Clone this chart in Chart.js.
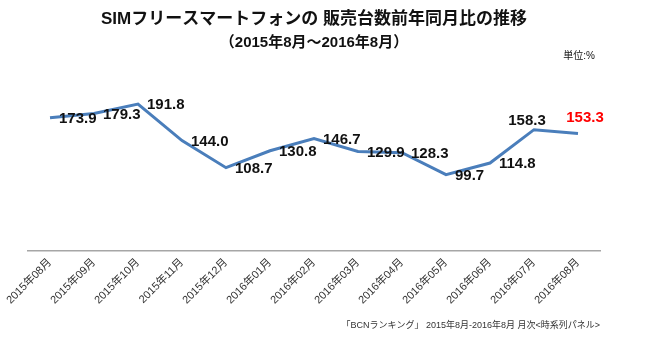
<!DOCTYPE html>
<html>
<head>
<meta charset="utf-8">
<script src="https://cdn.jsdelivr.net/npm/chart.js@4"></script>
<style>
  body { margin: 0; background: #fff; }
  canvas { display: block; }
</style>
</head>
<body>
<canvas id="simChart" width="650" height="338"></canvas>
<script>
// data
const months = ['2015年08月', '2015年09月', '2015年10月', '2015年11月', '2015年12月', '2016年01月', '2016年02月',
                '2016年03月', '2016年04月', '2016年05月', '2016年06月', '2016年07月', '2016年08月'];
const ratios = [173.9, 179.3, 191.8, 144.0, 108.7, 130.8, 146.7, 129.9, 128.3, 99.7, 114.8, 158.3, 153.3];
const yMin = 0;
const yMax = 250;

const titleText = 'SIMフリースマートフォンの 販売台数前年同月比の推移';
const subtitleText = '（2015年8月～2016年8月）';
const unitText = '単位:%';
const sourceText = '「BCNランキング」 2015年8月-2016年8月 月次<時系列パネル>';

const jpFont = "'Liberation Sans', 'Noto Sans CJK JP', sans-serif";

// value labels: right of the point, the last two sit above it
const valueLabels = {
  id: 'valueLabels',
  afterDatasetsDraw(chart) {
    const ctx = chart.ctx;
    const pts = chart.getDatasetMeta(0).data;
    const above = { 11: [-7, -9], 12: [7, -16] };
    ctx.save();
    ctx.font = "bold 15px 'Liberation Sans', sans-serif";
    ctx.textBaseline = 'middle';
    pts.forEach((p, i) => {
      const txt = ratios[i].toFixed(1);
      ctx.fillStyle = i === ratios.length - 1 ? '#ff0000' : '#111';
      if (above[i]) {
        ctx.textAlign = 'center';
        ctx.fillText(txt, p.x + above[i][0], p.y + above[i][1]);
      } else {
        ctx.textAlign = 'left';
        ctx.fillText(txt, p.x + 9, p.y + 1);
      }
    });
    // unit note above the plot, right side
    ctx.font = "10px " + jpFont;
    ctx.fillStyle = '#111';
    ctx.textAlign = 'right';
    ctx.fillText(unitText, chart.chartArea.right - 5, chart.chartArea.top - 3);
    ctx.restore();
  }
};

new Chart(document.getElementById('simChart'), {
  type: 'line',
  data: {
    labels: months,
    datasets: [{
      data: ratios,
      borderColor: '#4a7ebb',
      borderWidth: 3,
      pointRadius: 0,
      tension: 0,
      fill: false
    }]
  },
  options: {
    responsive: false,
    animation: false,
    layout: { padding: { left: 28, right: 50, top: 0, bottom: 5 } },
    scales: {
      x: {
        offset: true,
        grid: { display: false, drawTicks: false },
        border: { display: true, color: '#a6a6a6', width: 1.5 },
        ticks: {
          minRotation: 45,
          maxRotation: 45,
          padding: 5,
          color: '#333',
          font: { size: 11, family: jpFont }
        },
        title: {
          display: true,
          text: sourceText,
          align: 'end',
          color: '#333',
          padding: { top: 0, bottom: 2 },
          font: { size: 9, family: jpFont }
        },
        afterFit(scale) { scale.height = 82; }
      },
      y: {
        display: false,
        min: yMin,
        max: yMax
      }
    },
    plugins: {
      legend: { display: false },
      tooltip: { enabled: false },
      title: {
        display: true,
        text: titleText,
        color: '#111',
        padding: { top: 9, bottom: 2 },
        font: { size: 17, weight: 'bold', family: jpFont }
      },
      subtitle: {
        display: true,
        text: subtitleText,
        color: '#111',
        padding: { top: 2, bottom: 8 },
        font: { size: 15, weight: 'bold', family: jpFont }
      }
    }
  },
  plugins: [valueLabels]
});
</script>
</body>
</html>
